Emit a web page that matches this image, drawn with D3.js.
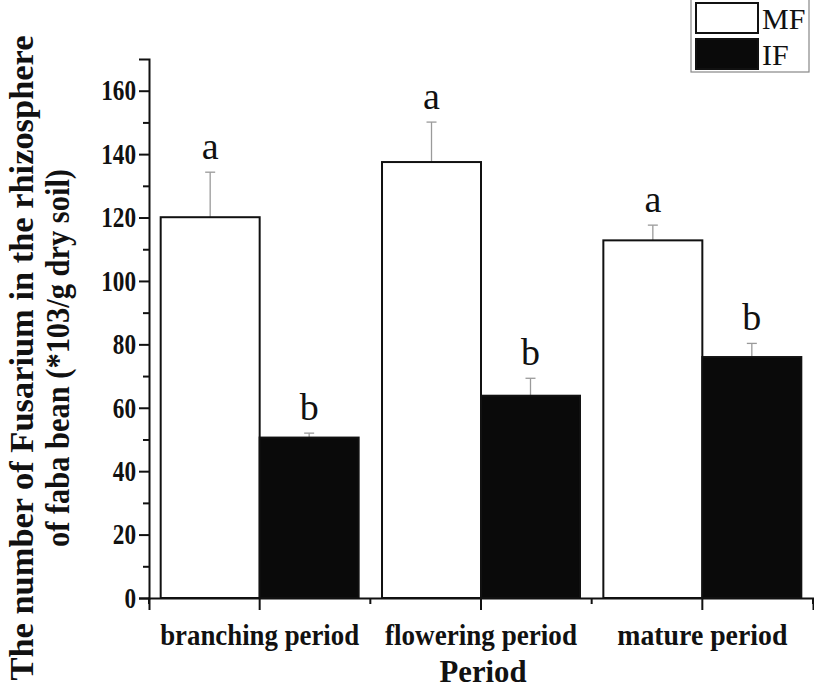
<!DOCTYPE html>
<html><head><meta charset="utf-8">
<script src="https://cdn.jsdelivr.net/npm/d3@7"></script>
<style>body{margin:0;background:#fff}svg{display:block}</style>
</head><body>
<svg id="c" width="814" height="690"></svg>
<script>
const categories = ["branching period", "flowering period", "mature period"];
const seriesNames = ["MF", "IF"];
const mfValues = [120.1, 137.5, 112.8];
const mfErrors = [14.2, 12.6, 4.8];
const ifValues = [50.6, 63.8, 76.0];
const ifErrors = [1.4, 5.5, 4.3];
const mfLetters = ["a", "a", "a"];
const ifLetters = ["b", "b", "b"];
const yTicks = [0, 20, 40, 60, 80, 100, 120, 140, 160];
const yMinorTicks = [10, 30, 50, 70, 90, 110, 130, 150];

const svg = d3.select("#c");
const serif = "'Liberation Serif','Times New Roman',serif";
const x = d3.scaleBand().domain(categories).range([149, 813]).padding(0);
const y = d3.scaleLinear().domain([0, 170]).range([598, 59]);
const sub = d3.scaleBand().domain(seriesNames).range([0, x.bandwidth()]).paddingOuter(0.118).paddingInner(0);

function condense(sel, k) {
  sel.each(function() {
    const len = this.getComputedTextLength();
    d3.select(this).attr("textLength", len * k).attr("lengthAdjust", "spacingAndGlyphs");
  });
}
function fitTo(sel, len) {
  sel.attr("textLength", len).attr("lengthAdjust", "spacingAndGlyphs");
}

const series = [
  {name: "MF", values: mfValues, errors: mfErrors, letters: mfLetters, fill: "#ffffff"},
  {name: "IF", values: ifValues, errors: ifErrors, letters: ifLetters, fill: "#0a0a0a"}
];

series.forEach(s => {
  const g = svg.append("g");
  categories.forEach((c, i) => {
    const x0 = x(c) + sub(s.name);
    const w = sub.bandwidth();
    const cx = x0 + w / 2;
    g.append("line").attr("x1", cx).attr("x2", cx)
      .attr("y1", y(s.values[i])).attr("y2", y(s.values[i] + s.errors[i]))
      .attr("stroke", "#9a9a9a").attr("stroke-width", 1.3);
    g.append("line").attr("x1", cx - 5).attr("x2", cx + 5)
      .attr("y1", y(s.values[i] + s.errors[i])).attr("y2", y(s.values[i] + s.errors[i]))
      .attr("stroke", "#9a9a9a").attr("stroke-width", 1.3);
    g.append("rect").attr("x", x0).attr("width", w)
      .attr("y", y(s.values[i])).attr("height", y(0) - y(s.values[i]))
      .attr("fill", s.fill).attr("stroke", "#111").attr("stroke-width", 2);
    g.append("text").attr("x", cx).attr("y", y(s.values[i] + s.errors[i]) - 13)
      .attr("text-anchor", "middle").attr("font-family", serif)
      .attr("font-size", 38).attr("fill", "#111").text(s.letters[i]);
  });
});

// y axis
const yAxisG = svg.append("g").attr("transform", "translate(149,0)")
  .call(d3.axisLeft(y).tickValues(yTicks).tickSize(10).tickPadding(3).tickFormat(d3.format("d")));
svg.append("g").attr("transform", "translate(149,0)")
  .call(d3.axisLeft(y).tickValues(yMinorTicks).tickSize(6).tickFormat(""))
  .call(g => g.select(".domain").remove());
// x axis
const boundaries = [0, 1, 2, 3].map(i => 149 + i * x.bandwidth());
const xAxisG = svg.append("g").attr("transform", "translate(0,598)")
  .call(d3.axisBottom(x).tickSize(12).tickPadding(14));
svg.append("g").attr("transform", "translate(0,598)")
  .selectAll("line").data(boundaries).join("line")
  .attr("x1", d => d).attr("x2", d => d).attr("y1", 0).attr("y2", 6)
  .attr("stroke", "#111").attr("stroke-width", 2);

svg.selectAll(".domain, .tick line").attr("stroke", "#111").attr("stroke-width", 2);
yAxisG.selectAll(".tick text").attr("font-family", serif).attr("font-weight", "bold")
  .attr("font-size", 29).attr("fill", "#111").call(condense, 0.8);
const catLen = [199, 192, 170];
xAxisG.selectAll(".tick text").attr("font-family", serif).attr("font-weight", "bold")
  .attr("font-size", 30).attr("fill", "#111")
  .each(function(d, i) { d3.select(this).call(fitTo, catLen[i]); });

// axis titles
svg.append("text").attr("x", 483).attr("y", 682).attr("text-anchor", "middle")
  .attr("font-family", serif).attr("font-weight", "bold").attr("font-size", 32)
  .attr("fill", "#111").text("Period").call(fitTo, 87);
const yt = svg.append("g").attr("transform", "translate(0,358) rotate(-90)");
yt.append("text").attr("x", 0).attr("y", 21).attr("dominant-baseline", "central")
  .attr("text-anchor", "middle").attr("font-family", serif).attr("font-weight", "bold")
  .attr("font-size", 34).attr("fill", "#111").text("The number of Fusarium in the rhizosphere")
  .call(fitTo, 645);
yt.append("text").attr("x", 0).attr("y", 57).attr("dominant-baseline", "central")
  .attr("text-anchor", "middle").attr("font-family", serif).attr("font-weight", "bold")
  .attr("font-size", 34).attr("fill", "#111").text("of faba bean (*103/g dry soil)")
  .call(fitTo, 378);

// legend
const lg = svg.append("g");
lg.append("rect").attr("x", 691).attr("y", -2).attr("width", 118).attr("height", 74)
  .attr("fill", "#fff").attr("stroke", "#888").attr("stroke-width", 1.2);
series.forEach((s, i) => {
  lg.append("rect").attr("x", 696).attr("y", 3 + i * 36).attr("width", 62).attr("height", 30)
    .attr("fill", s.fill).attr("stroke", "#111").attr("stroke-width", 2);
  lg.append("text").attr("x", 762).attr("y", 29 + i * 36)
    .attr("font-family", serif).attr("font-size", 30).attr("fill", "#111").text(s.name);
});
</script>
</body></html>
